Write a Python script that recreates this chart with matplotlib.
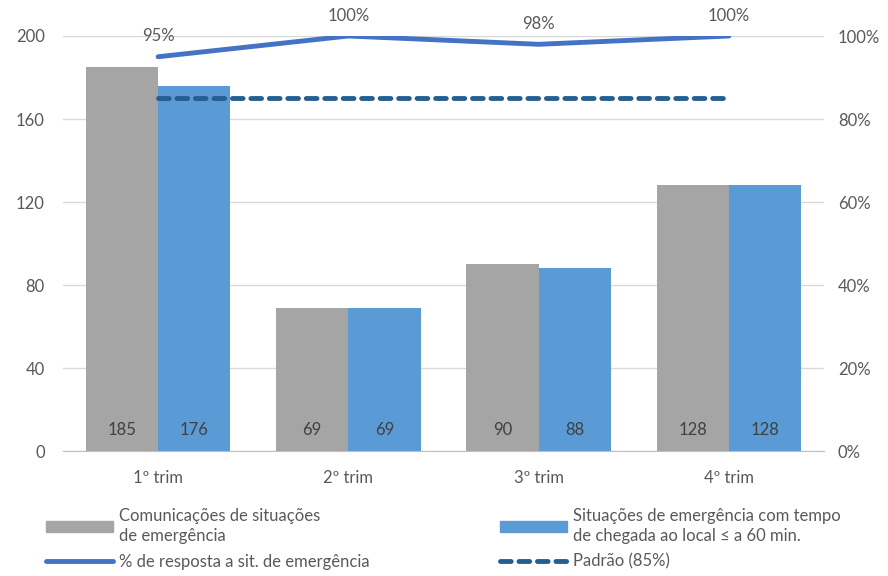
import matplotlib
matplotlib.use("Agg")
import matplotlib.pyplot as plt
from matplotlib.lines import Line2D
from matplotlib.patches import Patch
import numpy as np

plt.rcParams['font.family'] = ['Lato', 'DejaVu Sans']

categories = ["1º trim", "2º trim", "3º trim", "4º trim"]
comunicacoes = [185, 69, 90, 128]
situacoes_60 = [176, 69, 88, 128]
pct_resposta = [95, 100, 98, 100]
pct_labels = ["95%", "100%", "98%", "100%"]
padrao = [85, 85, 85, 85]

text_col = "#595959"
gray = "#A5A5A5"
blue = "#5B9BD5"
line_blue = "#4472C4"
dash_blue = "#255E91"
fs = 12

fig = plt.figure(figsize=(8.88, 5.76), dpi=100)
ax = fig.add_axes([0.0709, 0.217, 0.857, 0.7205])
x = np.arange(len(categories))
w = 0.38

b1 = ax.bar(x - w / 2, comunicacoes, w, color=gray, zorder=2)
b2 = ax.bar(x + w / 2, situacoes_60, w, color=blue, zorder=2)
for bars, vals in ((b1, comunicacoes), (b2, situacoes_60)):
    for r, v in zip(bars, vals):
        ax.text(r.get_x() + r.get_width() / 2, 10, str(v), ha="center", va="center",
                fontsize=fs, color="#404040", zorder=3)

ax.set_xlim(-0.5, len(categories) - 0.5)
ax.set_ylim(0, 200)
ax.set_yticks(range(0, 201, 40))
ax.set_xticks(x)
ax.set_xticklabels(categories)
ax.grid(axis="y", color="#D9D9D9", linewidth=1, zorder=0)
for s in ("top", "right", "left"):
    ax.spines[s].set_visible(False)
ax.spines["bottom"].set_color("#BFBFBF")
ax.tick_params(axis="both", length=0, labelsize=fs, labelcolor=text_col)
ax.tick_params(axis="x", pad=14)
ax.tick_params(axis="y", pad=13)

ax2 = ax.twinx()
ax2.set_ylim(0, 100)
ax2.set_yticks(range(0, 101, 20))
ax2.set_yticklabels([f"{t}%" for t in range(0, 101, 20)])
for s in ax2.spines.values():
    s.set_visible(False)
ax2.tick_params(axis="y", length=0, labelsize=fs, labelcolor=text_col, pad=10)

ax2.plot(x, pct_resposta, color=line_blue, linewidth=3.5, solid_capstyle="round", zorder=4)
ax2.plot(x, padrao, color=dash_blue, linewidth=3.5, linestyle=(0, (2.2, 1.6)),
         dash_capstyle="round", zorder=4)
for xi, v, lab in zip(x, pct_resposta, pct_labels):
    ax2.annotate(lab, (xi, v), xytext=(0, 9), textcoords="offset points",
                 ha="center", va="bottom", fontsize=fs, color=text_col, annotation_clip=False)

handles = [
    Patch(color=gray),
    Line2D([], [], color=line_blue, linewidth=3.5, solid_capstyle="round"),
    Patch(color=blue),
    Line2D([], [], color=dash_blue, linewidth=3.5, linestyle=(0, (2.2, 1.6)), dash_capstyle="round"),
]
labels = [
    "Comunicações de situações\nde emergência",
    "% de resposta a sit. de emergência",
    "Situações de emergência com tempo\nde chegada ao local ≤ a 60 min.",
    "Padrão (85%)",
]
leg = fig.legend(handles, labels, ncol=2, loc="lower left", bbox_to_anchor=(0.035, -0.015),
                 frameon=False, fontsize=fs, handlelength=4.0, handleheight=0.6,
                 handletextpad=0.4, columnspacing=7.8, labelspacing=0.55)
for t in leg.get_texts():
    t.set_color(text_col)
    t.set_linespacing(1.35)

fig.savefig("out.png", dpi=100)
